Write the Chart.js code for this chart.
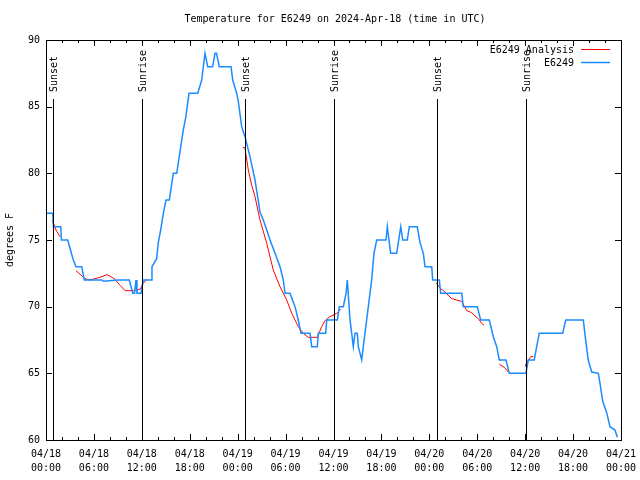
<!DOCTYPE html>
<html>
<head>
<meta charset="utf-8">
<script src="https://cdn.jsdelivr.net/npm/chart.js@4.4.1/dist/chart.umd.min.js"></script>
<style>
  html, body { margin: 0; padding: 0; background: #ffffff; }
  #c { display: block; }
</style>
</head>
<body>
<canvas id="c" width="640" height="480"></canvas>
<script>
// hours since 04/18 00:00 UTC
const obsHours = [0.12, 0.84, 0.94, 1.84, 1.94, 2.72, 3.42, 3.76, 4.47, 4.80, 7.0, 7.2, 9.0, 10.43, 10.86, 11.08, 11.27, 11.39, 11.9, 12.18,
  13.15, 13.27, 13.86, 14.06, 14.36, 14.69, 15.03, 15.44, 15.94, 16.37, 17.19, 17.49, 17.91, 19.0, 19.5, 19.7, 19.91, 20.03, 20.25, 20.87,
  21.16, 21.35, 21.7, 23.17, 23.38, 23.88, 24.08, 24.5, 24.92, 25.54, 26.17, 26.8, 27.21, 27.64, 28.05, 28.68, 29.3, 29.71, 29.93, 30.55,
  31.18, 31.59, 31.93, 33.06, 33.27, 33.97, 34.1, 35.02, 35.15, 36.48, 36.73, 37.23, 37.57, 37.73, 38.07, 38.28, 38.48, 38.69, 38.98, 39.11,
  39.53, 39.73, 39.94, 40.36, 40.78, 41.07, 41.41, 42.57, 42.74, 43.16, 43.91, 44.42, 44.67, 45.24, 45.49, 46.49, 46.83, 47.25, 47.46, 48.3,
  48.42, 49.25, 49.42, 52.05, 52.25, 54.0, 54.43, 55.51, 56.01, 56.44, 56.76, 57.6, 58.01, 60.1, 60.39, 61.14, 61.44, 61.77, 64.7, 65.08,
  67.28, 67.49, 67.9, 68.33, 69.16, 69.37, 69.71, 70.21, 70.62, 71.25, 71.54];
const obsTemps = [77, 77, 76, 76, 75, 75, 73.5, 73, 73, 72, 72, 71.9, 72, 72, 71, 71, 72, 71, 71, 72,
  72, 73, 73.6, 74.8, 75.75, 77, 78, 78, 80, 80, 83.25, 84.15, 86, 86, 87, 88, 89, 89, 88, 88,
  89, 89, 88, 88, 87, 86, 85.4, 83.5, 82.75, 81.25, 79.5, 77.1, 76.5, 75.75, 75, 74, 73, 72, 71, 71,
  70, 69, 68, 68, 67, 67, 68, 68, 69, 69, 70, 70, 71, 72, 69, 68, 67, 68, 68, 67,
  66, 67, 68, 70, 72, 74, 75, 75, 76, 74, 74, 76, 75, 75, 76, 76, 74.8, 74, 73, 73,
  72, 72, 71, 71, 70, 70, 69, 69, 67.75, 67, 66, 66, 65, 65, 66, 66, 67, 68, 68, 69,
  69, 67.9, 66, 65.1, 65, 64.25, 62.9, 62.05, 61, 60.75, 60.2];

// analysis series, null = gap
const anaHours = [0.79, 1.25, 1.75, 2.5, 3.76, 4.88, 5.51, 6.14, 6.76, 7.6, 8.01, 8.64, 9.27, 9.9, 10.93, 11.77, 12.18, 12.61, 18,
  24.63, 24.92, 25.33, 25.76, 26.17, 26.8, 27.64, 28.46, 29.3, 30.14, 30.77, 31.59, 32.22, 32.85, 33.97, 34.52, 34.94, 35.56, 36.4, 36.9, 42,
  48.84, 49.34, 49.96, 50.8, 51.43, 52.05, 52.68, 53.31, 53.72, 54.14, 54.56, 54.85, 56,
  56.76, 57.48, 57.89, 59,
  59.98, 60.27, 60.7, 61.02];
const anaTemps = [76.5, 75.75, 75.25, null, 72.7, 72.1, 72, 72.1, 72.2, 72.4, 72.3, 72.05, 71.6, 71.2, 71.2, 71.3, 71.75, 72.05, null,
  81.95, 81.9, 80.25, 79.1, 78.25, 76.5, 74.75, 72.75, 71.5, 70.5, 69.5, 68.5, 68, 67.7, 67.7, 68.5, 68.95, 69.25, 69.5, 69.8, null,
  71.8, 71.4, 71.1, 70.6, 70.5, 70.4, 69.7, 69.55, 69.3, 69.1, 68.75, 68.6, null,
  65.7, 65.4, 65.1, null,
  65.5, 65.9, 66.25, 66.25];

const tickLabels = [['04/18', '00:00'], ['04/18', '06:00'], ['04/18', '12:00'], ['04/18', '18:00'],
  ['04/19', '00:00'], ['04/19', '06:00'], ['04/19', '12:00'], ['04/19', '18:00'],
  ['04/20', '00:00'], ['04/20', '06:00'], ['04/20', '12:00'], ['04/20', '18:00'], ['04/21', '00:00']];

const sunHours = [0.92, 12.05, 24.9, 36.1, 48.97, 60.1];
const sunLabels = ['Sunset', 'Sunrise', 'Sunset', 'Sunrise', 'Sunset', 'Sunrise'];

const FONT = '10px "DejaVu Sans Mono", "Liberation Mono", monospace';
const BLUE = '#1a8cff';
const RED = '#ff0000';

function toPoints(xs, ys) {
    return xs.map((x, i) => ({ x: x, y: ys[i] }));
}

// рамка, засечки, линии восхода/заката, легенда, подписи
const decor = {
    id: 'decor',
    afterDatasetsDraw(chart) {
        const ctx = chart.ctx;
        const a = chart.chartArea;
        const xs = chart.scales.x;
        const ys = chart.scales.y;
        ctx.save();
        ctx.strokeStyle = '#000';
        ctx.lineWidth = 1;

        // sunrise / sunset
        ctx.font = FONT;
        ctx.fillStyle = '#000';
        sunHours.forEach((h, i) => {
            const px = Math.round(xs.getPixelForValue(h)) + 0.5;
            ctx.beginPath();
            ctx.moveTo(px, 99);
            ctx.lineTo(px, a.bottom);
            ctx.stroke();
            ctx.save();
            ctx.translate(px + 1, 92);
            ctx.rotate(-Math.PI / 2);
            ctx.textAlign = 'left';
            ctx.textBaseline = 'middle';
            ctx.fillText(sunLabels[i], 0, 0);
            ctx.restore();
        });

        // border
        ctx.strokeRect(Math.round(a.left) + 0.5, Math.round(a.top) + 0.5,
            Math.round(a.right - a.left), Math.round(a.bottom - a.top));

        // x ticks (inward, mirrored)
        for (let h = 0; h <= 72; h += 2) {
            const px = Math.round(xs.getPixelForValue(h)) + 0.5;
            const len = h % 6 === 0 ? 6 : 3;
            ctx.beginPath();
            ctx.moveTo(px, a.bottom);
            ctx.lineTo(px, a.bottom - len);
            ctx.moveTo(px, a.top);
            ctx.lineTo(px, a.top + len);
            ctx.stroke();
        }
        // y ticks
        for (let v = 60; v <= 90; v += 5) {
            const py = Math.round(ys.getPixelForValue(v)) + 0.5;
            ctx.beginPath();
            ctx.moveTo(a.left, py);
            ctx.lineTo(a.left + 6, py);
            ctx.moveTo(a.right, py);
            ctx.lineTo(a.right - 6, py);
            ctx.stroke();
        }

        // legend
        ctx.textAlign = 'right';
        ctx.textBaseline = 'middle';
        ctx.fillText('E6249 Analysis', 574, 50);
        ctx.fillText('E6249', 574, 63);
        ctx.lineWidth = 1;
        ctx.strokeStyle = RED;
        ctx.beginPath(); ctx.moveTo(581, 49.5); ctx.lineTo(610, 49.5); ctx.stroke();
        ctx.lineWidth = 1.5;
        ctx.strokeStyle = BLUE;
        ctx.beginPath(); ctx.moveTo(581, 62.5); ctx.lineTo(610, 62.5); ctx.stroke();

        // title
        ctx.textAlign = 'center';
        ctx.fillText('Temperature for E6249 on 2024-Apr-18 (time in UTC)', 335, 19);

        // y title
        ctx.save();
        ctx.translate(10, 240);
        ctx.rotate(-Math.PI / 2);
        ctx.textAlign = 'center';
        ctx.fillText('degrees F', 0, 0);
        ctx.restore();

        ctx.restore();
    }
};

new Chart(document.getElementById('c'), {
    type: 'line',
    data: {
        datasets: [
            {
                label: 'E6249',
                data: toPoints(obsHours, obsTemps),
                borderColor: BLUE,
                borderWidth: 1.5,
                pointRadius: 0,
                tension: 0,
                fill: false
            },
            {
                label: 'E6249 Analysis',
                data: toPoints(anaHours, anaTemps),
                borderColor: RED,
                borderWidth: 1,
                pointRadius: 0,
                tension: 0,
                spanGaps: false,
                fill: false
            }
        ]
    },
    options: {
        responsive: false,
        animation: false,
        devicePixelRatio: 1,
        layout: { padding: { left: 0, right: 19, top: 40, bottom: 0 } },
        plugins: {
            legend: { display: false },
            tooltip: { enabled: false }
        },
        scales: {
            x: {
                type: 'linear',
                min: 0,
                max: 72,
                afterFit: s => { s.height = 40; s.paddingLeft = 0; s.paddingRight = 0; },
                afterBuildTicks: s => { s.ticks = tickLabels.map((_, i) => ({ value: i * 6 })); },
                grid: { display: false, drawTicks: false },
                border: { display: false },
                ticks: {
                    autoSkip: false,
                    maxRotation: 0,
                    padding: 7,
                    color: '#000',
                    font: { family: '"DejaVu Sans Mono", "Liberation Mono", monospace', size: 10, lineHeight: 1.4 },
                    callback: (v) => tickLabels[Math.round(v / 6)]
                }
            },
            y: {
                min: 60,
                max: 90,
                afterFit: s => { s.width = 46; s.paddingTop = 0; s.paddingBottom = 0; },
                grid: { display: false, drawTicks: false },
                border: { display: false },
                ticks: {
                    stepSize: 5,
                    padding: 6,
                    color: '#000',
                    font: { family: '"DejaVu Sans Mono", "Liberation Mono", monospace', size: 10 }
                }
            }
        }
    },
    plugins: [decor]
});
</script>
</body>
</html>
